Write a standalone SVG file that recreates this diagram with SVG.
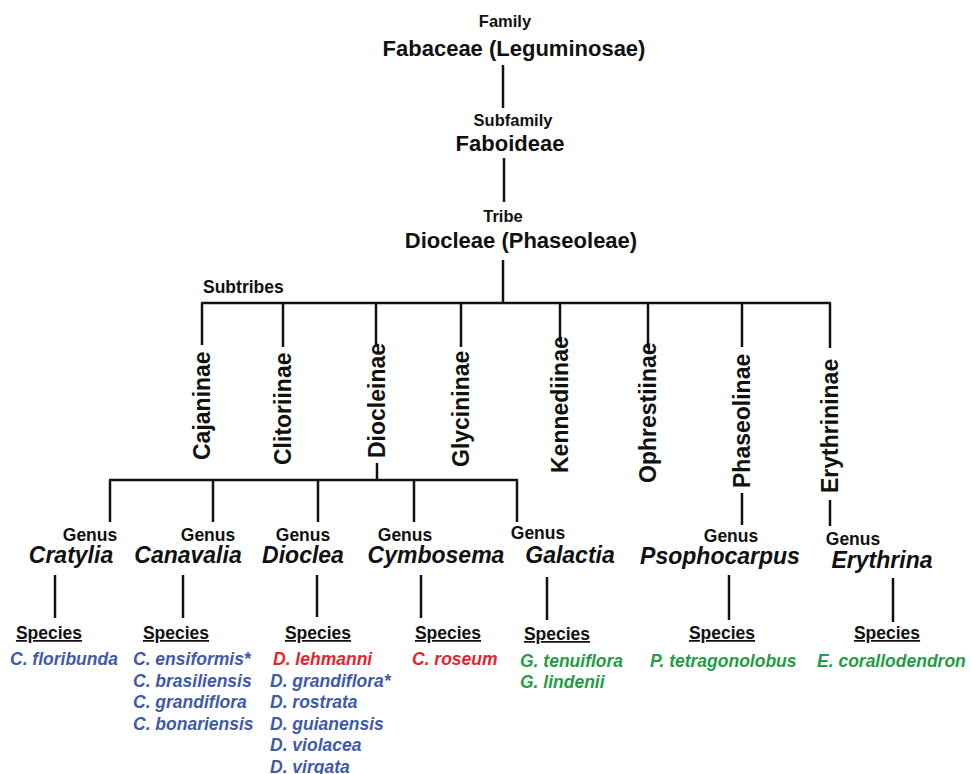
<svg xmlns="http://www.w3.org/2000/svg" width="971" height="774" viewBox="0 0 971 774">
<style>
text{font-family:"Liberation Sans",Arial,sans-serif;font-weight:bold;fill:#111}
.rank{font-size:16.5px}
.big{font-size:22px}
.sub{font-size:23px}
.lbl{font-size:17.5px}
.gen{font-size:23px;font-style:italic}
.sp{font-size:17.5px;font-style:italic}
.sph{font-size:17.5px;text-decoration:underline}
.b{fill:#3f5aa8}
.r{fill:#e3262d}
.g{fill:#239c47}
.m{text-anchor:middle}
#connectors line{stroke:#111;stroke-width:2.5;stroke-linecap:butt}
</style>
<rect width="971" height="774" fill="#fff"/>
<g id="connectors">
<line x1="503" y1="65" x2="503" y2="108"/>
<line x1="504" y1="158" x2="504" y2="202"/>
<line x1="503" y1="260" x2="503" y2="303"/>
<line x1="201" y1="303" x2="831" y2="303"/>
<line x1="202" y1="303" x2="202" y2="345"/>
<line x1="283" y1="303" x2="283" y2="347"/>
<line x1="376" y1="303" x2="376" y2="345"/>
<line x1="377" y1="463" x2="377" y2="480"/>
<line x1="461" y1="303" x2="461" y2="347"/>
<line x1="560" y1="303" x2="560" y2="342"/>
<line x1="648" y1="303" x2="648" y2="348"/>
<line x1="742" y1="303" x2="742" y2="347"/>
<line x1="742" y1="493" x2="742" y2="525"/>
<line x1="830" y1="303" x2="830" y2="348"/>
<line x1="830" y1="500" x2="830" y2="526"/>
<line x1="109" y1="480" x2="518" y2="480"/>
<line x1="110" y1="480" x2="110" y2="522"/>
<line x1="213" y1="480" x2="213" y2="522"/>
<line x1="318" y1="480" x2="318" y2="522"/>
<line x1="414" y1="480" x2="414" y2="522"/>
<line x1="517" y1="480" x2="517" y2="522"/>
<line x1="55" y1="575" x2="55" y2="618"/>
<line x1="183" y1="575" x2="183" y2="618"/>
<line x1="317" y1="575" x2="317" y2="617"/>
<line x1="421" y1="575" x2="421" y2="618"/>
<line x1="547" y1="577" x2="547" y2="620"/>
<line x1="729" y1="575" x2="729" y2="620"/>
<line x1="893" y1="578" x2="893" y2="622"/>
</g>
<g id="family">
<text class="rank m" x="505" y="27">Family</text>
<text class="big m" x="514" y="56">Fabaceae (Leguminosae)</text>
</g>
<g id="subfamily">
<text class="rank m" x="513" y="126">Subfamily</text>
<text class="big m" x="510" y="151">Faboideae</text>
</g>
<g id="tribe">
<text class="rank m" x="503" y="222">Tribe</text>
<text class="big m" x="521" y="248">Diocleae (Phaseoleae)</text>
</g>
<g id="subtribes-label">
<text class="lbl" x="203" y="293">Subtribes</text>
</g>
<g id="cajaninae"><text class="sub" transform="translate(210,460) rotate(-90)">Cajaninae</text></g>
<g id="clitoriinae"><text class="sub" transform="translate(291,465) rotate(-90)">Clitoriinae</text></g>
<g id="diocleinae"><text class="sub" transform="translate(385,458) rotate(-90)">Diocleinae</text></g>
<g id="glycininae"><text class="sub" transform="translate(469,467) rotate(-90)">Glycininae</text></g>
<g id="kennediinae"><text class="sub" transform="translate(568,473) rotate(-90)">Kennediinae</text></g>
<g id="ophrestiinae"><text class="sub" transform="translate(656,483) rotate(-90)">Ophrestiinae</text></g>
<g id="phaseolinae"><text class="sub" transform="translate(750,488) rotate(-90)">Phaseolinae</text></g>
<g id="erythrininae"><text class="sub" transform="translate(838,493) rotate(-90)">Erythrininae</text></g>
<g id="cratylia">
<text class="lbl m" x="90" y="541">Genus</text>
<text class="gen m" x="71" y="563">Cratylia</text>
</g>
<g id="canavalia">
<text class="lbl m" x="208" y="541">Genus</text>
<text class="gen m" x="188" y="563">Canavalia</text>
</g>
<g id="dioclea">
<text class="lbl m" x="303" y="541">Genus</text>
<text class="gen m" x="303" y="563">Dioclea</text>
</g>
<g id="cymbosema">
<text class="lbl m" x="405" y="541">Genus</text>
<text class="gen m" x="436" y="563">Cymbosema</text>
</g>
<g id="galactia">
<text class="lbl m" x="538" y="539">Genus</text>
<text class="gen m" x="570" y="563">Galactia</text>
</g>
<g id="psophocarpus">
<text class="lbl m" x="731" y="542">Genus</text>
<text class="gen m" x="720" y="564">Psophocarpus</text>
</g>
<g id="erythrina">
<text class="lbl m" x="853" y="545">Genus</text>
<text class="gen m" x="882" y="568">Erythrina</text>
</g>
<g id="species-cratylia">
<text class="sph m" x="49" y="639">Species</text>
<text class="sp b" x="10" y="665">C. floribunda</text>
</g>
<g id="species-canavalia">
<text class="sph m" x="176" y="639">Species</text>
<text class="sp b" x="133" y="665">C. ensiformis*</text>
<text class="sp b" x="133" y="687">C. brasiliensis</text>
<text class="sp b" x="133" y="708">C. grandiflora</text>
<text class="sp b" x="133" y="730">C. bonariensis</text>
</g>
<g id="species-dioclea">
<text class="sph m" x="318" y="639">Species</text>
<text class="sp r" x="273" y="665">D. lehmanni</text>
<text class="sp b" x="270" y="687">D. grandiflora*</text>
<text class="sp b" x="270" y="708">D. rostrata</text>
<text class="sp b" x="270" y="730">D. guianensis</text>
<text class="sp b" x="270" y="751">D. violacea</text>
<text class="sp b" x="270" y="773">D. virgata</text>
</g>
<g id="species-cymbosema">
<text class="sph m" x="448" y="639">Species</text>
<text class="sp r" x="412" y="665">C. roseum</text>
</g>
<g id="species-galactia">
<text class="sph m" x="557" y="640">Species</text>
<text class="sp g" x="520" y="667">G. tenuiflora</text>
<text class="sp g" x="520" y="688">G. lindenii</text>
</g>
<g id="species-psophocarpus">
<text class="sph m" x="722" y="639">Species</text>
<text class="sp g" x="650" y="667">P. tetragonolobus</text>
</g>
<g id="species-erythrina">
<text class="sph m" x="887" y="639">Species</text>
<text class="sp g" x="817" y="667">E. corallodendron</text>
</g>
</svg>
